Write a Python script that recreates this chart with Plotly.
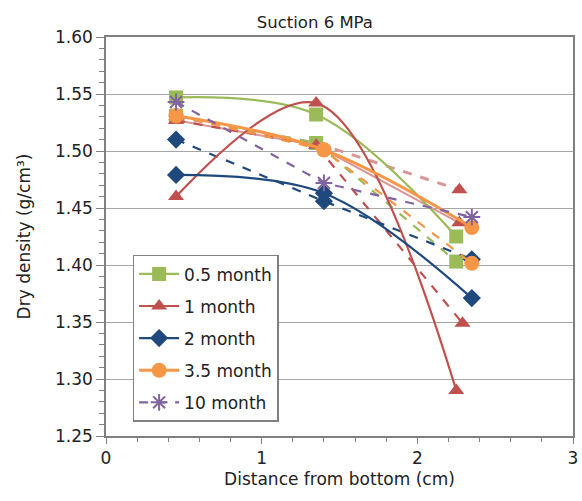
import plotly.graph_objects as go

# ---- data ----
x_g = [0.45, 1.35, 2.25]
x_b = [0.45, 1.40, 2.35]
x_r2 = [0.45, 1.35, 2.29]
x_r3 = [0.45, 1.35, 2.27]

m05_a = [1.547, 1.532, 1.425]
m05_b = [1.531, 1.507, 1.403]
m1_a = [1.460, 1.542, 1.290]
m1_b = [1.527, 1.505, 1.349]
m1_c = [1.530, 1.507, 1.466]
m1_d = [1.527, 1.505, 1.437]
m2_a = [1.479, 1.463, 1.371]
m2_b = [1.510, 1.456, 1.405]
m35_a = [1.531, 1.501, 1.433]
m35_b = [1.531, 1.501, 1.4015]
m10 = [1.543, 1.472, 1.442]

GREEN = "#9BBB59"
RED = "#C0504D"
PINK = "#D99694"
BLUE = "#1F497D"
ORANGE = "#F79646"
PURPLE = "#8064A2"

fig = go.Figure()

def add(x, y, name, color, symbol, size, dash="solid", shape="spline",
        show=False, width=2.2, mcolor=None, mline=0):
    fig.add_trace(go.Scatter(
        x=x, y=y, name=name, mode="lines+markers",
        line=dict(color=color, width=width, dash=dash, shape=shape, smoothing=1),
        marker=dict(symbol=symbol, size=size, color=mcolor or color,
                    line=dict(width=mline, color=mcolor or color)),
        showlegend=show, legendgroup=name if show else None,
    ))

# hidden (second sample) series
add(x_r3, m1_c, "1 month c", PINK, "triangle-up", 14, dash="dash", shape="linear", width=3, mcolor=RED)
add(x_r3, m1_d, "1 month d", PINK, "triangle-up", 14, shape="linear", width=2, mcolor=RED)
add(x_g, m05_b, "0.5 month b", GREEN, "square", 14, dash="dash", shape="linear")
add(x_r2, m1_b, "1 month b", RED, "triangle-up", 14, dash="dash", shape="linear")
add(x_b, m2_b, "2 month b", BLUE, "diamond", 14, dash="dash", shape="linear")
add(x_b, m35_b, "3.5 month b", ORANGE, "circle", 15, dash="dash", shape="linear")

# legend series
add(x_g, m05_a, "0.5 month", GREEN, "square", 14, show=True)
add(x_g, m1_a, "1 month", RED, "triangle-up", 14, show=True)
add(x_b, m2_a, "2 month", BLUE, "diamond", 14, show=True)
add(x_b, m35_a, "3.5 month", ORANGE, "circle", 15, show=True, width=3)
add(x_b, m10, "10 month", PURPLE, "asterisk-open", 14, dash="dash", shape="linear",
    show=True, mline=2)

fig.update_layout(
    width=582, height=501,
    margin=dict(l=106, r=4, t=37, b=65),
    paper_bgcolor="white", plot_bgcolor="white",
    font=dict(family="DejaVu Sans", size=17, color="#222"),
    title=dict(text="Suction 6 MPa", x=0.541, xanchor="center", y=0.956, yanchor="middle",
               font=dict(size=16.5, color="#222")),
    showlegend=True,
    legend=dict(x=0.057, y=0.454, xanchor="left", yanchor="top",
                bgcolor="white", bordercolor="#808080", borderwidth=1.5,
                font=dict(size=17), tracegroupgap=7, itemwidth=40),
    xaxis=dict(range=[0, 3], dtick=1, tick0=0, showgrid=False,
               showline=True, linecolor="#808080", linewidth=1.5, mirror=True,
               ticks="outside", ticklen=6, tickcolor="#808080",
               minor=dict(dtick=0.2, ticks="outside", ticklen=4, tickcolor="#808080"),
               title=dict(text="Distance from bottom (cm)", standoff=6, font=dict(size=17)),
               zeroline=False),
    yaxis=dict(range=[1.25, 1.60], dtick=0.05, tick0=1.25, tickformat=".2f",
               showgrid=True, gridcolor="#A6A6A6", gridwidth=1.2,
               showline=True, linecolor="#808080", linewidth=1.5, mirror=True,
               ticks="outside", ticklen=8, tickcolor="#808080",
               minor=dict(dtick=0.01, ticks="outside", ticklen=5, tickcolor="#808080", showgrid=False),
               title=dict(text="Dry density (g/cm³)", standoff=20, font=dict(size=17)),
               zeroline=False),
)

fig.write_html("out.html")
